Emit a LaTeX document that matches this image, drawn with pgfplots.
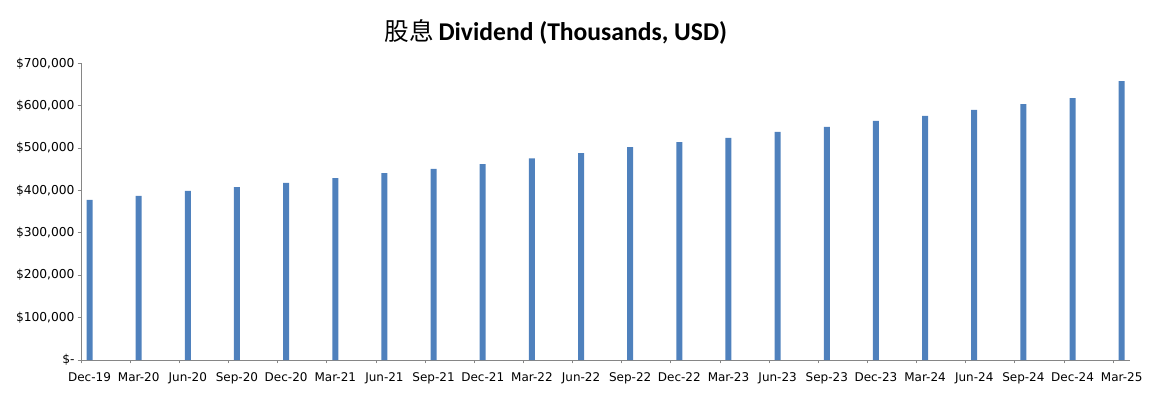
\documentclass[border=0pt]{standalone}
\usepackage{fontspec}
\usepackage{pgfplots}
\pgfplotsset{compat=1.18}
\setmainfont{DejaVu Sans}
\newfontfamily\cjk{Noto Sans CJK SC}
\newfontfamily\titlefont{Carlito}
\definecolor{barblue}{HTML}{4F81BD}
\definecolor{axgray}{HTML}{868686}
\begin{document}
\begin{tikzpicture}[x=1pt,y=1pt]
\begin{axis}[
  at={(60.75pt,27.75pt)}, anchor=south west,
  scale only axis, width=786.75pt, height=222.5pt,
  xmin=-0.173, xmax=21.17, ymin=0, ymax=700000,
  axis x line*=bottom, axis y line*=left,
  axis line style={axgray, line width=0.6pt},
  every tick/.style={axgray, line width=0.6pt},
  major tick length=2.5pt,
  tick align=outside,
  xtick={-0.173,0.827,1.827,2.827,3.827,4.827,5.827,6.827,7.827,8.827,9.827,10.827,11.827,12.827,13.827,14.827,15.827,16.827,17.827,18.827,19.827,20.827},
  xticklabels={Dec-19,Mar-20,Jun-20,Sep-20,Dec-20,Mar-21,Jun-21,Sep-21,Dec-21,Mar-22,Jun-22,Sep-22,Dec-22,Mar-23,Jun-23,Sep-23,Dec-23,Mar-24,Jun-24,Sep-24,Dec-24,Mar-25},
  xticklabel style={font=\fontsize{9}{10}\selectfont, xshift=6.4pt, yshift=-3.5pt},
  ytick={0,100000,200000,300000,400000,500000,600000,700000},
  yticklabels={{\$-\hspace{6.5pt}},{\$100,000},{\$200,000},{\$300,000},{\$400,000},{\$500,000},{\$600,000},{\$700,000}},
  yticklabel style={font=\fontsize{9.2}{10}\selectfont, xshift=1.2pt},
  scaled y ticks=false,
  ybar, bar width=4.5pt, bar shift=0pt,
  clip=false,
]
\addplot[fill=barblue, draw=none] coordinates {
(0,378000) (1,387000) (2,399000) (3,408000) (4,418000) (5,429000) (6,441000)
(7,451000) (8,462000) (9,476000) (10,488000) (11,502000) (12,514000) (13,524000)
(14,538000) (15,550000) (16,564000) (17,576000) (18,590000) (19,604000) (20,618000)
(21,658000)};
\end{axis}
\node[anchor=base, inner sep=0pt] at (417pt,267.5pt) {{\cjk\fontsize{18.5}{20}\selectfont 股息} {\titlefont\bfseries\fontsize{19.2}{22}\selectfont Dividend (Thousands, USD)}};
\pgfresetboundingbox
\path[use as bounding box] (0,0) rectangle (869.25pt,297.75pt);
\end{tikzpicture}
\end{document}
